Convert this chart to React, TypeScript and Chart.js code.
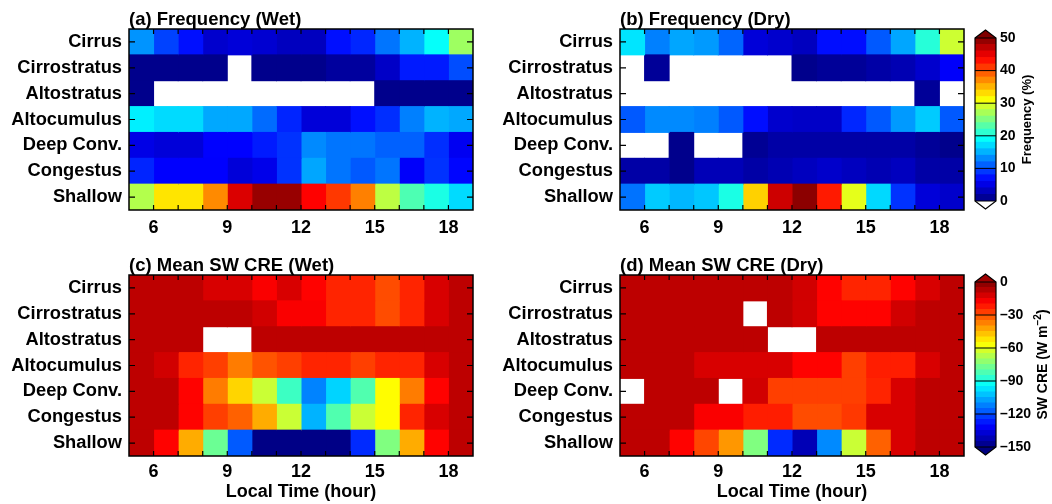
import React, { useEffect, useRef } from "react";
import { Chart, registerables } from "chart.js";

Chart.register(...registerables);

const FONT = "'Liberation Sans', Arial, Helvetica, sans-serif";
Chart.defaults.font.family = FONT;
Chart.defaults.color = "#000";

// ---------- data ----------
const cloudTypes = ["Cirrus", "Cirrostratus", "Altostratus", "Altocumulus", "Deep Conv.", "Congestus", "Shallow"];
const hours = [5, 6, 7, 8, 9, 10, 11, 12, 13, 14, 15, 16, 17, 18];
const hourTickLabels = [6, 9, 12, 15, 18];

const freqTicks = [0, 10, 20, 30, 40, 50];
const creTicks = [-150, -120, -90, -60, -30, 0];

type Cell = number | null;

// (a) Frequency (%) wet season, rows = cloudTypes, columns = hours
const freqWet: Cell[][] = [
  [13.5, 9.5, 7, 3.8, 4.4, 4, 3.1, 3.1, 7, 8.1, 12, 15, 19, 26.5],
  [0.6, 0.6, 0.6, 0.6, null, 0.6, 0.6, 0.6, 1.5, 1.5, 3.5, 7.5, 7.5, 10],
  [0.6, null, null, null, null, null, null, null, null, null, 0.6, 0.6, 0.6, 0.6],
  [18, 17, 17, 14.5, 14.5, 11.5, 8, 4.4, 4.4, 7, 8.5, 12.5, 15, 14.5],
  [5, 4.4, 4.4, 6.3, 6.3, 7.5, 8.7, 13, 12, 12, 11, 11, 8.5, 5.6],
  [8, 6.2, 6.2, 6.2, 4.4, 5.2, 8.7, 14.4, 12, 10.6, 12, 6, 8.7, 6.5],
  [27.5, 32.5, 32.5, 37, 45.5, 48.8, 48.8, 43.7, 41, 37.5, 28, 22.5, 20, 17],
];

// (b) Frequency (%) dry season
const freqDry: Cell[][] = [
  [17.5, 12.5, 14.4, 13.8, 11.2, 4.4, 3.8, 3.1, 6.9, 6.9, 10.6, 14.4, 20.6, 28.8],
  [null, 1.2, null, null, null, null, null, 0.6, 1.2, 1.2, 1.9, 2.5, 3.8, 6],
  [null, null, null, null, null, null, null, null, null, null, null, null, 1.2, null],
  [10.6, 13, 13, 12.5, 10.6, 6.9, 3.8, 3.5, 3.5, 8.1, 10.6, 13.8, 16.2, 10.6],
  [null, null, 0.6, null, null, 1, 1.9, 1.9, 1.9, 1.9, 1.9, 1.9, 1.2, 0.6],
  [1.9, 1.9, 0.6, 2.7, 2.7, 1.9, 2.5, 3.1, 3.7, 3.1, 2.5, 3.1, 1.9, 1.9],
  [11.9, 16.2, 15.2, 16, 20, 33.5, 46.2, 49.4, 42.5, 30, 16.9, 8.7, 4.4, 3.7],
];

// (c) Mean SW CRE (W m-2) wet season
const creWet: Cell[][] = [
  [-9, -9, -9, -13, -13, -18, -13, -19, -24, -24, -30, -24, -13, -9],
  [-9, -9, -9, -9, -9, -12, -18, -18, -24, -24, -30, -24, -13, -9],
  [-9, -9, -9, null, null, -9, -9, -9, -9, -9, -9, -9, -9, -9],
  [-9, -12, -24, -28, -37, -31, -28, -24, -24, -28, -24, -24, -13, -9],
  [-9, -9, -19, -37, -50, -64, -85, -112, -100, -82, -56, -37, -19, -9],
  [-9, -9, -19, -28, -33, -44, -64, -105, -82, -64, -56, -24, -13, -9],
  [-9, -19, -44, -78, -118, -149, -149, -149, -149, -125, -75, -44, -19, -9],
];

// (d) Mean SW CRE (W m-2) dry season
const creDry: Cell[][] = [
  [-9, -9, -9, -9, -9, -9, -9, -12, -19, -24, -24, -19, -13, -9],
  [-9, -9, -9, -9, -9, null, -9, -12, -19, -19, -19, -12, -9, -9],
  [-9, -9, -9, -9, -9, -9, null, null, -9, -9, -9, -9, -9, -9],
  [-9, -9, -9, -13, -13, -13, -13, -19, -19, -28, -23, -23, -13, -9],
  [null, -9, -9, -9, null, -12, -28, -28, -28, -28, -24, -13, -9, -9],
  [-9, -9, -9, -18, -18, -23, -23, -30, -30, -27, -13, -13, -9, -9],
  [-9, -9, -19, -29, -41, -75, -125, -142, -111, -64, -33, -13, -9, -9],
];

// ---------- colour map ----------
function jet(f: number): string {
  const c = (x: number) => Math.max(0, Math.min(1, x));
  const r = c(1.5 - Math.abs(4 * f - 3));
  const g = c(1.5 - Math.abs(4 * f - 2));
  const b = c(1.5 - Math.abs(4 * f - 1));
  return `rgb(${Math.round(r * 255)},${Math.round(g * 255)},${Math.round(b * 255)})`;
}
function colorFor(v: number, lo: number, hi: number) {
  return jet(Math.max(0, Math.min(1, (v - lo) / (hi - lo))));
}

// ---------- panel (heat map) ----------
function framePlugin(title: string) {
  return {
    id: "frame",
    afterDatasetsDraw(chart: any) {
      const { ctx, chartArea: a, scales } = chart;
      const x = scales.x;
      const y = scales.y;
      ctx.save();
      ctx.strokeStyle = "#000";
      ctx.lineWidth = 1.2;
      ctx.beginPath();
      hours.slice(1).forEach((h) => {
        const px = x.getPixelForValue(h);
        ctx.moveTo(px, a.bottom);
        ctx.lineTo(px, a.bottom - 5);
        ctx.moveTo(px, a.top);
        ctx.lineTo(px, a.top + 5);
      });
      cloudTypes.forEach((_, i) => {
        const py = y.getPixelForValue(i);
        ctx.moveTo(a.left, py);
        ctx.lineTo(a.left + 6, py);
        ctx.moveTo(a.right, py);
        ctx.lineTo(a.right - 6, py);
      });
      ctx.stroke();
      ctx.lineWidth = 1.5;
      ctx.strokeRect(a.left, a.top, a.right - a.left, a.bottom - a.top);
      ctx.fillStyle = "#000";
      ctx.font = `bold 18.5px ${FONT}`;
      ctx.textAlign = "left";
      ctx.textBaseline = "alphabetic";
      ctx.fillText(title, a.left, a.top - 4);
      ctx.restore();
    },
  };
}

function panelConfig(
  values: Cell[][],
  lo: number,
  hi: number,
  title: string,
  xTitle: string | null,
  yAxisWidth: number,
  xAxisHeight: number,
  padTop: number,
  padRight: number,
  tickPad: number
): any {
  const datasets = hours.map((h, j) => ({
    data: values.map((row) => (row[j] == null ? null : [h, h + 1])),
    backgroundColor: values.map((row) => (row[j] == null ? "rgba(0,0,0,0)" : colorFor(row[j] as number, lo, hi))),
    borderWidth: 0,
    grouped: false,
    barPercentage: 1,
    categoryPercentage: 1,
    inflateAmount: 0.5,
  }));
  return {
    type: "bar",
    data: { labels: cloudTypes, datasets },
    options: {
      indexAxis: "y",
      animation: false,
      responsive: false,
      maintainAspectRatio: false,
      events: [],
      layout: { padding: { top: padTop, right: padRight, left: 0, bottom: 0 } },
      plugins: { legend: { display: false }, tooltip: { enabled: false }, title: { display: false } },
      scales: {
        x: {
          type: "linear",
          min: hours[0],
          max: hours[hours.length - 1] + 1,
          beginAtZero: false,
          afterFit: (s: any) => {
            s.height = xAxisHeight;
          },
          afterBuildTicks: (s: any) => {
            s.ticks = hourTickLabels.map((v) => ({ value: v }));
          },
          ticks: {
            autoSkip: false,
            maxRotation: 0,
            padding: tickPad,
            color: "#000",
            font: { size: 18, weight: "bold" },
            callback: (v: any) => String(v),
          },
          grid: { display: false, drawTicks: false, tickLength: 0 },
          border: { display: false },
          title: xTitle
            ? { display: true, text: xTitle, color: "#000", font: { size: 18, weight: "bold" }, padding: { top: 0, bottom: 1 } }
            : { display: false },
        },
        y: {
          type: "category",
          offset: true,
          afterFit: (s: any) => {
            s.width = yAxisWidth;
          },
          ticks: { padding: 7, color: "#000", font: { size: 18.3, weight: "bold" }, autoSkip: false },
          grid: { display: false, drawTicks: false, tickLength: 0, offset: true },
          border: { display: false },
        },
      },
    },
    plugins: [framePlugin(title)],
  };
}

// ---------- colour bar ----------
type TitlePart = { text: string; size: number; dy: number };

function colorbarPlugin(titleParts: TitlePart[], topColor: string, bottomColor: string) {
  return {
    id: "cbar",
    afterDraw(chart: any) {
      const { ctx, chartArea: a, scales } = chart;
      const y = scales.y;
      const tri = 8;
      const mid = (a.left + a.right) / 2;
      ctx.save();
      ctx.fillStyle = topColor;
      ctx.beginPath();
      ctx.moveTo(a.left, a.top);
      ctx.lineTo(mid, a.top - tri);
      ctx.lineTo(a.right, a.top);
      ctx.closePath();
      ctx.fill();
      ctx.fillStyle = bottomColor;
      ctx.beginPath();
      ctx.moveTo(a.left, a.bottom);
      ctx.lineTo(mid, a.bottom + tri);
      ctx.lineTo(a.right, a.bottom);
      ctx.closePath();
      ctx.fill();
      ctx.strokeStyle = "#000";
      ctx.lineWidth = 1;
      ctx.beginPath();
      y.ticks.forEach((t: any) => {
        const py = y.getPixelForValue(t.value);
        ctx.moveTo(a.left, py);
        ctx.lineTo(a.right, py);
      });
      ctx.stroke();
      ctx.lineWidth = 1.2;
      ctx.beginPath();
      ctx.moveTo(a.left, a.top);
      ctx.lineTo(mid, a.top - tri);
      ctx.lineTo(a.right, a.top);
      ctx.lineTo(a.right, a.bottom);
      ctx.lineTo(mid, a.bottom + tri);
      ctx.lineTo(a.left, a.bottom);
      ctx.closePath();
      ctx.stroke();
      // title
      ctx.font = `bold 14px ${FONT}`;
      const widest = Math.max(...y.ticks.map((t: any) => ctx.measureText(String(t.label)).width));
      const tx = a.right + 4 + widest + 12;
      const ty = (a.top + a.bottom) / 2;
      let total = 0;
      const widths = titleParts.map((p) => {
        ctx.font = `bold ${p.size}px ${FONT}`;
        const w = ctx.measureText(p.text).width;
        total += w;
        return w;
      });
      ctx.translate(tx, ty);
      ctx.rotate(-Math.PI / 2);
      ctx.fillStyle = "#000";
      ctx.textAlign = "left";
      ctx.textBaseline = "middle";
      let cx = -total / 2;
      titleParts.forEach((p, i) => {
        ctx.font = `bold ${p.size}px ${FONT}`;
        ctx.fillText(p.text, cx, p.dy);
        cx += widths[i];
      });
      ctx.restore();
    },
  };
}

function colorbarConfig(
  lo: number,
  hi: number,
  levelStep: number,
  ticks: number[],
  titleParts: TitlePart[],
  topColor: string,
  bottomColor: string,
  padTop: number,
  padBottom: number
): any {
  const n = Math.round((hi - lo) / levelStep);
  const datasets: any[] = [];
  for (let i = 0; i < n; i++) {
    const a = lo + i * levelStep;
    datasets.push({
      data: [[a, a + levelStep]],
      backgroundColor: colorFor(a + levelStep / 2, lo, hi),
      borderWidth: 0,
      grouped: false,
      barPercentage: 1,
      categoryPercentage: 1,
      inflateAmount: 0.5,
    });
  }
  return {
    type: "bar",
    data: { labels: [""], datasets },
    options: {
      animation: false,
      responsive: false,
      maintainAspectRatio: false,
      events: [],
      layout: { padding: { top: padTop, bottom: padBottom, left: 10, right: 11 } },
      plugins: { legend: { display: false }, tooltip: { enabled: false }, title: { display: false } },
      scales: {
        x: { type: "category", display: false },
        y: {
          type: "linear",
          position: "right",
          min: lo,
          max: hi,
          beginAtZero: false,
          afterFit: (s: any) => {
            s.width = 45;
          },
          afterBuildTicks: (s: any) => {
            s.ticks = ticks.map((v) => ({ value: v }));
          },
          ticks: {
            padding: 4,
            color: "#000",
            font: { size: 14, weight: "bold" },
            callback: (v: any) => (v < 0 ? "\u2013" + Math.abs(v) : String(v)),
          },
          grid: { display: false, drawTicks: false, tickLength: 0 },
          border: { display: false },
        },
      },
    },
    plugins: [colorbarPlugin(titleParts, topColor, bottomColor)],
  };
}

export default function App() {
  const aRef = useRef<HTMLCanvasElement>(null);
  const bRef = useRef<HTMLCanvasElement>(null);
  const cRef = useRef<HTMLCanvasElement>(null);
  const dRef = useRef<HTMLCanvasElement>(null);
  const cb1Ref = useRef<HTMLCanvasElement>(null);
  const cb2Ref = useRef<HTMLCanvasElement>(null);

  useEffect(() => {
    const [fLo, fHi] = [freqTicks[0], freqTicks[freqTicks.length - 1]];
    const [cLo, cHi] = [creTicks[0], creTicks[creTicks.length - 1]];
    const charts = [
      new Chart(aRef.current!, panelConfig(freqWet, fLo, fHi, "(a) Frequency (Wet)", null, 129, 40, 29, 7, 7)),
      new Chart(bRef.current!, panelConfig(freqDry, fLo, fHi, "(b) Frequency (Dry)", null, 140, 40, 29, 6, 7)),
      new Chart(cRef.current!, panelConfig(creWet, cLo, cHi, "(c) Mean SW CRE (Wet)", "Local Time (hour)", 129, 48, 25, 7, 5)),
      new Chart(dRef.current!, panelConfig(creDry, cLo, cHi, "(d) Mean SW CRE (Dry)", "Local Time (hour)", 140, 48, 25, 6, 5)),
      new Chart(
        cb1Ref.current!,
        colorbarConfig(fLo, fHi, 2, freqTicks, [{ text: "Frequency (%)", size: 13, dy: 0 }], "rgb(128,0,0)", "#ffffff", 38, 49)
      ),
      new Chart(
        cb2Ref.current!,
        colorbarConfig(
          cLo,
          cHi,
          5,
          creTicks,
          [
            { text: "SW CRE (W m", size: 14, dy: 0 },
            { text: "\u22122", size: 10, dy: -5 },
            { text: ")", size: 14, dy: 0 },
          ],
          "rgb(160,0,0)",
          "rgb(0,0,128)",
          32,
          57
        )
      ),
    ];
    return () => charts.forEach((c) => c.destroy());
  }, []);

  const abs = (left: number, top: number, w: number, h: number): React.CSSProperties => ({
    position: "absolute",
    left,
    top,
    width: w,
    height: h,
  });

  return (
    <div style={{ position: "absolute", left: 0, top: 0, width: 1052, height: 504, background: "#fff", overflow: "hidden" }}>
      <canvas ref={aRef} width={480} height={250} style={abs(0, 0, 480, 250)} />
      <canvas ref={bRef} width={490} height={250} style={abs(480, 0, 490, 250)} />
      <canvas ref={cRef} width={480} height={254} style={abs(0, 250, 480, 254)} />
      <canvas ref={dRef} width={490} height={254} style={abs(480, 250, 490, 254)} />
      <canvas ref={cb1Ref} width={87} height={250} style={abs(965, 0, 87, 250)} />
      <canvas ref={cb2Ref} width={87} height={254} style={abs(965, 250, 87, 254)} />
    </div>
  );
}
